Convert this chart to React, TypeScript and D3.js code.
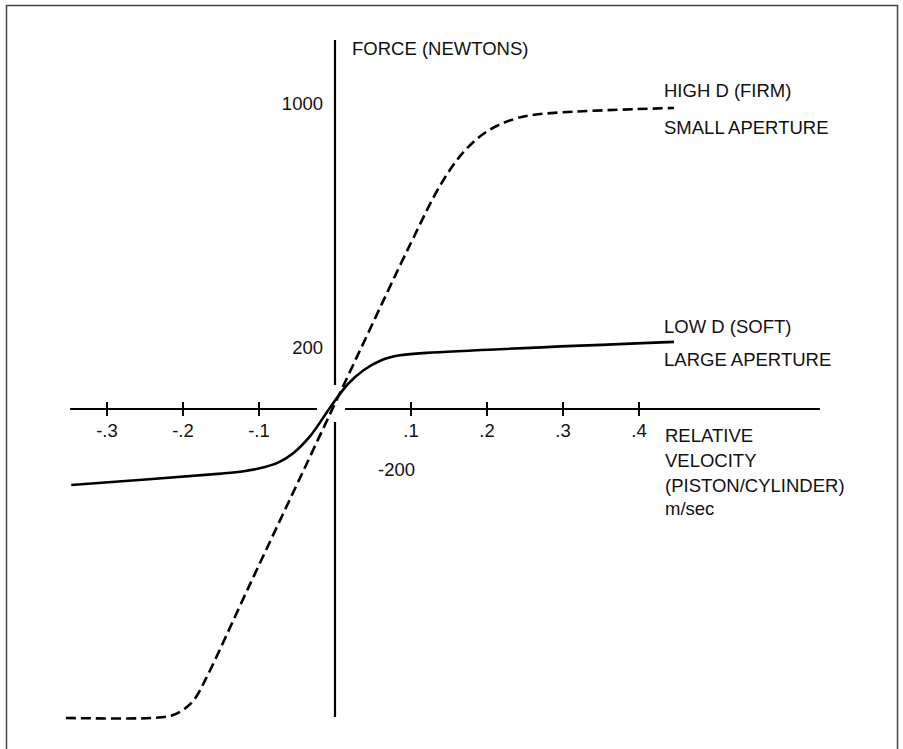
import React from "react";
import * as d3 from "d3";

// HIGH D (FIRM) / SMALL APERTURE — dashed curve
const highVelocity = [-0.354, -0.24, -0.215, -0.199, -0.185, -0.17, -0.111, -0.047, 0.034, 0.1, 0.14, 0.17, 0.2, 0.235, 0.27, 0.446];
const highForce = [-1013, -1013, -1005, -985, -952, -885, -570, -231, 198, 545, 740, 845, 910, 950, 967, 987];

// LOW D (SOFT) / LARGE APERTURE — solid curve
const lowVelocity = [-0.347, -0.15, -0.12, -0.095, -0.075, -0.055, -0.033, -0.005, 0.017, 0.038, 0.061, 0.085, 0.12, 0.446];
const lowForce = [-249, -212, -204, -192, -176, -145, -90, 10, 82, 128, 160, 176, 184, 220];

const xTicks = [-0.3, -0.2, -0.1, 0.1, 0.2, 0.3, 0.4];
const xTickLabels = ["-.3", "-.2", "-.1", ".1", ".2", ".3", ".4"];
const yTickValues = [1000, 200, -200];
const yTickLabels = ["1000", "200", "-200"];

const W = 903;
const H = 749;
const FONT = "'Liberation Sans', Arial, Helvetica, sans-serif";

export default function App() {
  const x = d3.scaleLinear().domain([0, 0.1]).range([335, 411]);
  const y = d3.scaleLinear().domain([0, 1000]).range([409, 104]);

  const line = d3
    .line<[number, number]>()
    .x((d) => x(d[0]))
    .y((d) => y(d[1]))
    .curve(d3.curveCatmullRom.alpha(0.5));

  const highPts = highVelocity.map((v, i) => [v, highForce[i]] as [number, number]);
  const lowPts = lowVelocity.map((v, i) => [v, lowForce[i]] as [number, number]);

  const x0 = x(0);
  const y0 = y(0);

  const textStyle: React.CSSProperties = { fontFamily: FONT, fontSize: 18.5, fill: "#111" };

  return (
    <svg
      width={W}
      height={H}
      style={{ position: "absolute", left: 0, top: 0, background: "#fff" }}
    >
      <rect x={6.5} y={5.5} width={891} height={800} fill="#fff" stroke="#444" strokeWidth={1.5} />

      {/* x axis (with gap around origin) */}
      <line x1={x(-0.3485)} x2={x(-0.0237)} y1={y0} y2={y0} stroke="#000" strokeWidth={2} />
      <line x1={x(0.0132)} x2={x(0.638)} y1={y0} y2={y0} stroke="#000" strokeWidth={2} />
      {/* y axis (with gap around origin) */}
      <line x1={x0} x2={x0} y1={y(1210)} y2={y(79)} stroke="#000" strokeWidth={2.2} />
      <line x1={x0} x2={x0} y1={y(-43)} y2={y(-1010)} stroke="#000" strokeWidth={2.2} />

      {xTicks.map((t, i) => (
        <g key={t}>
          <line x1={x(t)} x2={x(t)} y1={y0 - 7} y2={y0 + 7} stroke="#000" strokeWidth={2} />
          <text x={x(t)} y={y0 + 28} textAnchor="middle" style={textStyle}>
            {xTickLabels[i]}
          </text>
        </g>
      ))}

      {yTickValues.map((v, i) =>
        v > 0 ? (
          <text key={v} x={x0 - 12} y={y(v) + 6} textAnchor="end" style={textStyle}>
            {yTickLabels[i]}
          </text>
        ) : (
          <text key={v} x={x0 + 43} y={y(v) + 6} textAnchor="start" style={textStyle}>
            {yTickLabels[i]}
          </text>
        )
      )}

      <path d={line(highPts) || ""} fill="none" stroke="#000" strokeWidth={2.6} strokeDasharray="10,5" />
      <path d={line(lowPts) || ""} fill="none" stroke="#000" strokeWidth={2.6} />

      <text x={352} y={55} style={textStyle}>FORCE (NEWTONS)</text>

      <text x={664} y={97} style={textStyle}>HIGH D (FIRM)</text>
      <text x={664} y={134} style={textStyle}>SMALL APERTURE</text>
      <text x={664} y={333} style={textStyle}>LOW D (SOFT)</text>
      <text x={664} y={366} style={textStyle}>LARGE APERTURE</text>

      <text x={665} y={442} style={textStyle}>RELATIVE</text>
      <text x={665} y={467} style={textStyle}>VELOCITY</text>
      <text x={665} y={492} style={textStyle}>(PISTON/CYLINDER)</text>
      <text x={665} y={515} style={textStyle}>m/sec</text>
    </svg>
  );
}
